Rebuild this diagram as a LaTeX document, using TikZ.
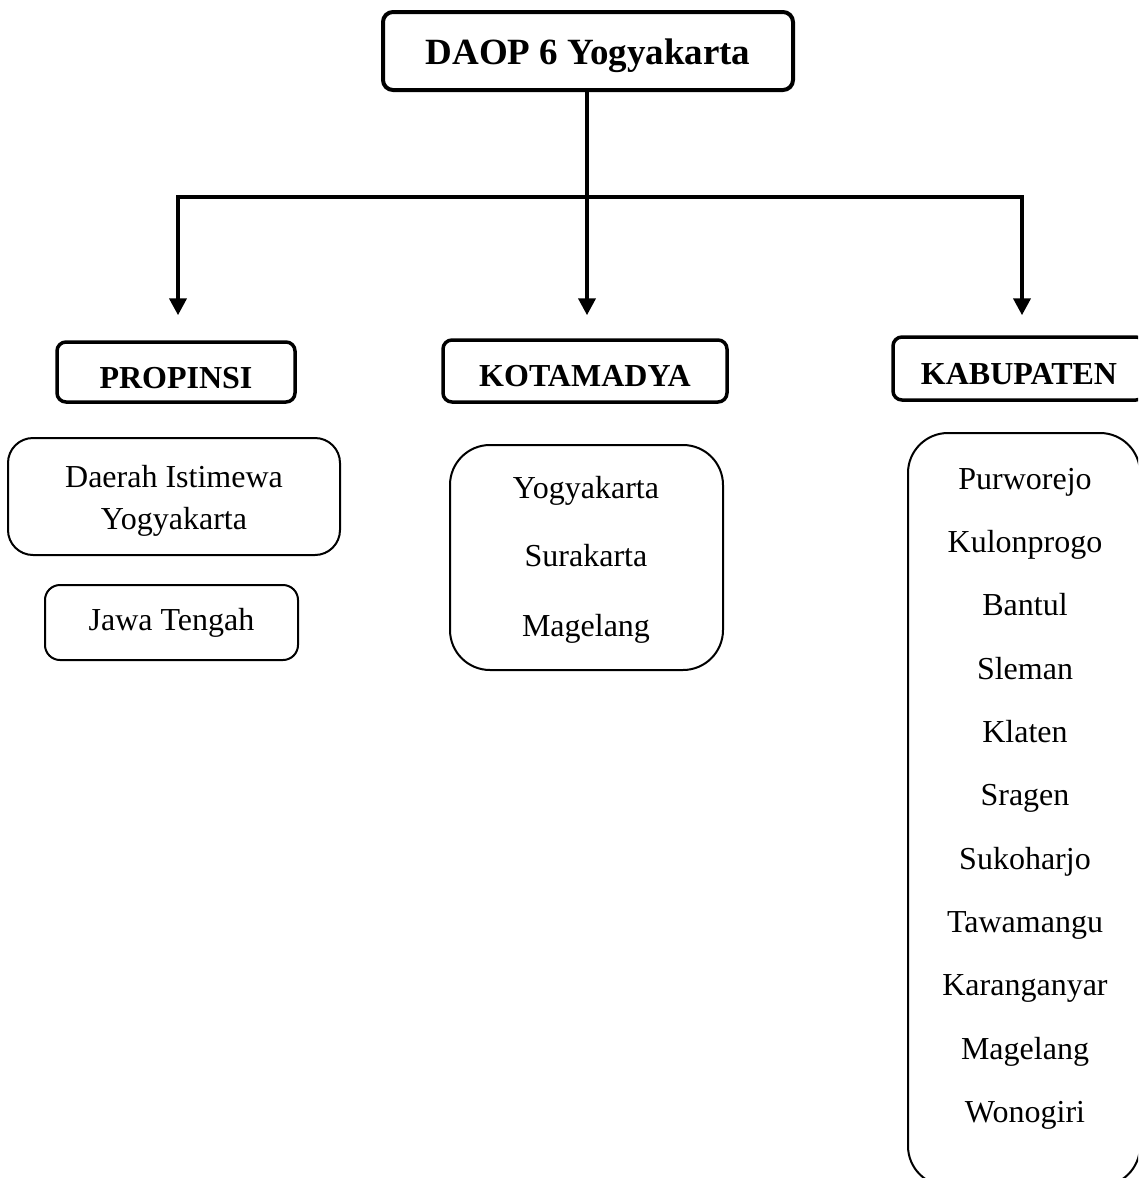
\documentclass[tikz,border=0pt]{standalone}
\usepackage{fontspec}
\setmainfont{Liberation Serif}
\usetikzlibrary{arrows.meta}
\begin{document}
\begin{tikzpicture}[x=1pt,y=-1pt,
  titlebox/.style={draw, line width=4pt, rounded corners=10pt, inner sep=0pt},
  catbox/.style={draw, line width=3.5pt, rounded corners=9pt, inner sep=0pt},
  listbox/.style={draw, line width=2pt, inner sep=0pt},
  titletext/.style={inner sep=0pt, anchor=base, font=\fontsize{37}{44}\selectfont\bfseries},
  cattext/.style={inner sep=0pt, anchor=base, font=\fontsize{32}{38}\selectfont\bfseries},
  item/.style={inner sep=0pt, anchor=base, font=\fontsize{32}{41}\selectfont},
  conn/.style={line width=4pt},
  arr/.style={line width=4pt, -{Triangle[length=17pt,width=17pt]}}
]
\useasboundingbox (0,0) rectangle (1138,1178);
\clip (0,0) rectangle (1138,1178);

% title
\node[titlebox, minimum width=410pt, minimum height=78pt] (top) at (588,51) {};
\node[titletext] (toptext) at (588,64) {DAOP 6 Yogyakarta};

% categories
\node[catbox, minimum width=238pt, minimum height=60pt] (prop) at (176,372) {};
\node[cattext] (proptext) at (176,388) {PROPINSI};
\node[catbox, minimum width=284pt, minimum height=62pt] (kota) at (585,371) {};
\node[cattext] (kotatext) at (585,386) {KOTAMADYA};
\node[catbox, minimum width=252pt, minimum height=63pt] (kab) at (1019,368.5) {};
\node[cattext] (kabtext) at (1019,384) {KABUPATEN};

% connectors
\coordinate (busL) at (178,197);
\coordinate (busM) at (587,197);
\coordinate (busR) at (1022,197);
\draw[conn] (top.south -| busM) -- (busM);
\draw[conn, line cap=rect] (busL) -- (busR);
\draw[arr, shorten >=25pt] (busL) -- (busL |- prop.north);
\draw[arr, shorten >=23pt] (busM) -- (busM |- kota.north);
\draw[arr, shorten >=20pt] (busR) -- (busR |- kab.north);

% propinsi list
\node[listbox, rounded corners=25pt, minimum width=332pt, minimum height=117pt] (diy) at (174,496.5) {};
\node[item] (diy1) at (174,487) {Daerah Istimewa};
\node[item] (diy2) at (174,529) {Yogyakarta};
\node[listbox, rounded corners=15pt, minimum width=253pt, minimum height=75pt] (jateng) at (171.5,622.5) {};
\node[item] (jatengtext) at (171.5,630) {Jawa Tengah};

% kotamadya list
\node[listbox, rounded corners=40pt, minimum width=273pt, minimum height=225pt] (kotalist) at (586.5,557.5) {};
\node[item] (k1) at (586,498) {Yogyakarta};
\node[item] (k2) at (586,566) {Surakarta};
\node[item] (k3) at (586,636) {Magelang};

% kabupaten list
\node[listbox, rounded corners=40pt, minimum width=232pt, minimum height=753pt] (kablist) at (1024,809.5) {};
\node[item] (b1) at (1025,489) {Purworejo};
\node[item] (b2) at (1025,552) {Kulonprogo};
\node[item] (b3) at (1025,615.5) {Bantul};
\node[item] (b4) at (1025,679) {Sleman};
\node[item] (b5) at (1025,742) {Klaten};
\node[item] (b6) at (1025,805) {Sragen};
\node[item] (b7) at (1025,869) {Sukoharjo};
\node[item] (b8) at (1025,932) {Tawamangu};
\node[item] (b9) at (1025,995.5) {Karanganyar};
\node[item] (b10) at (1025,1059) {Magelang};
\node[item] (b11) at (1025,1122) {Wonogiri};
\end{tikzpicture}
\end{document}
